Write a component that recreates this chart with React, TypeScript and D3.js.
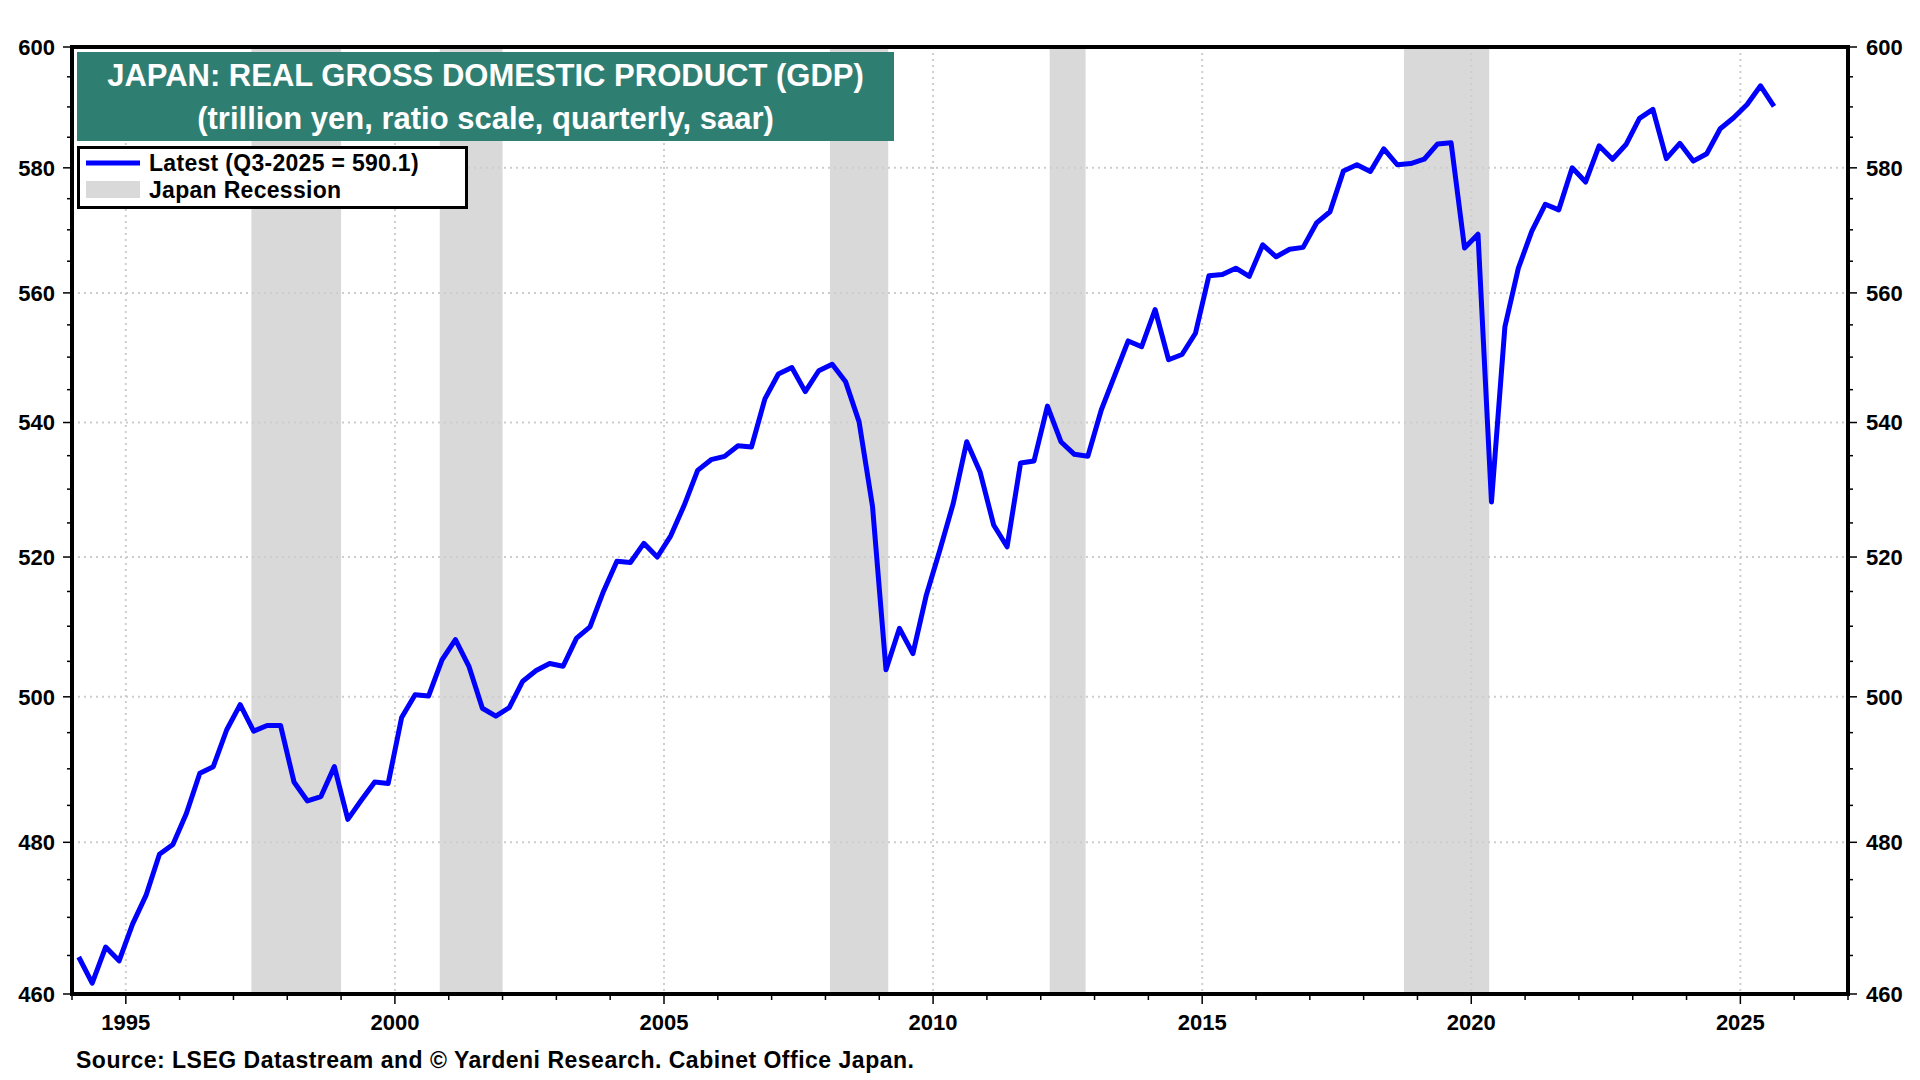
import { scaleLinear, scaleLog, line, range } from "d3";

// Japan real GDP, trillion yen, saar — one row per year, Q1..Q4
const years = [
  1994, 1995, 1996, 1997, 1998, 1999, 2000, 2001, 2002, 2003, 2004, 2005, 2006, 2007, 2008, 2009,
  2010, 2011, 2012, 2013, 2014, 2015, 2016, 2017, 2018, 2019, 2020, 2021, 2022, 2023, 2024, 2025,
];
const gdp = [
  [464.8, 461.4, 466.1, 464.3],
  [469.1, 472.9, 478.4, 479.7],
  [483.9, 489.4, 490.3, 495.4],
  [498.9, 495.2, 496.0, 496.0],
  [488.2, 485.6, 486.2, 490.3],
  [483.1, 485.7, 488.2, 488.0],
  [497.1, 500.3, 500.1, 505.2],
  [508.1, 504.3, 498.4, 497.3],
  [498.5, 502.2, 503.7, 504.7],
  [504.3, 508.3, 509.9, 515.0],
  [519.4, 519.2, 522.0, 520.0],
  [523.1, 527.6, 532.8, 534.4],
  [534.9, 536.5, 536.3, 543.6],
  [547.4, 548.4, 544.7, 547.9],
  [548.9, 546.2, 540.1, 527.4],
  [503.8, 509.7, 506.1, 514.5],
  [521.0, 527.9, 537.1, 532.5],
  [524.7, 521.5, 533.9, 534.2],
  [542.5, 537.1, 535.2, 534.9],
  [541.9, 547.2, 552.5, 551.6],
  [557.4, 549.6, 550.4, 553.7],
  [562.7, 562.9, 563.9, 562.6],
  [567.6, 565.7, 566.9, 567.2],
  [571.1, 572.9, 579.5, 580.5],
  [579.4, 583.1, 580.5, 580.7],
  [581.4, 583.9, 584.1, 567.1],
  [569.3, 528.1, 554.7, 563.9],
  [569.8, 574.1, 573.2, 580.0],
  [577.7, 583.6, 581.4, 583.8],
  [588.1, 589.6, 581.5, 584.0],
  [581.1, 582.3, 586.4, 588.2],
  [590.4, 593.5, 590.1],
];

// Cabinet Office business cycle peaks / troughs (YYYY-MM)
const recessions = [
  ["1997-05", "1999-01"],
  ["2000-11", "2002-01"],
  ["2008-02", "2009-03"],
  ["2012-03", "2012-11"],
  ["2018-10", "2020-05"],
];

const yTicks = [460, 480, 500, 520, 540, 560, 580, 600];
const xLabels = [1995, 2000, 2005, 2010, 2015, 2020, 2025];

const FONT = "'Liberation Sans', Arial, Helvetica, sans-serif";
const BLUE = "#0000ff";
const GRID = "#cdcdcd";

const toYear = (s: string) => +s.slice(0, 4) + (+s.slice(5, 7) - 1) / 12;

export default function App() {
  const W = 1920;
  const H = 1080;
  const left = 72;
  const right = 1848;
  const top = 47;
  const bottom = 994;

  const x = scaleLinear().domain([1994, 2027]).range([left, right]);
  const y = scaleLog().domain([460, 600]).range([bottom, top]);

  // quarterly points plotted mid-quarter
  const points: [number, number][] = [];
  years.forEach((yr, i) => {
    gdp[i].forEach((v, q) => points.push([yr + q * 0.25 + 0.125, v]));
  });

  const path = line<[number, number]>()
    .x((d) => x(d[0]))
    .y((d) => y(d[1]))(points);

  const minorY = range(460, 601, 5);
  const yearTicks = range(1994, 2028, 1);

  return (
    <div style={{ position: "absolute", left: 0, top: 0, width: W, height: H, background: "#fff" }}>
      <svg width={W} height={H} viewBox={`0 0 ${W} ${H}`} style={{ display: "block", fontFamily: FONT }}>
        <rect x={0} y={0} width={W} height={H} fill="#fff" />

        {/* Recession bands */}
        {recessions.map(([s, e], i) => (
          <rect
            key={i}
            x={x(toYear(s))}
            y={top}
            width={x(toYear(e)) - x(toYear(s))}
            height={bottom - top}
            fill="#d9d9d9"
          />
        ))}

        {/* Grid lines */}
        {yTicks.slice(1, -1).map((v) => (
          <line key={v} x1={left} x2={right} y1={y(v)} y2={y(v)} stroke={GRID} strokeWidth={2} strokeDasharray="2 4" />
        ))}
        {xLabels.map((yr) => (
          <line key={yr} x1={x(yr)} x2={x(yr)} y1={top} y2={bottom} stroke={GRID} strokeWidth={2} strokeDasharray="2 4" />
        ))}

        {/* GDP line */}
        <path d={path ?? ""} fill="none" stroke={BLUE} strokeWidth={5} strokeLinejoin="round" />

        {/* Frame */}
        <rect x={left} y={top} width={right - left} height={bottom - top} fill="none" stroke="#000" strokeWidth={4} />

        {/* Y ticks, both sides */}
        {minorY.map((v) => {
          const major = v % 20 === 0;
          const len = major ? 9 : 5;
          return (
            <g key={v}>
              <line x1={left - len} x2={left} y1={y(v)} y2={y(v)} stroke="#000" strokeWidth={1.5} />
              <line x1={right} x2={right + len} y1={y(v)} y2={y(v)} stroke="#000" strokeWidth={1.5} />
            </g>
          );
        })}
        {yTicks.map((v) => (
          <g key={v} fontSize={22} fontWeight="bold" fill="#000">
            <text x={left - 17} y={y(v)} dy="0.36em" textAnchor="end">
              {v}
            </text>
            <text x={right + 18} y={y(v)} dy="0.36em" textAnchor="start">
              {v}
            </text>
          </g>
        ))}

        {/* X ticks */}
        {yearTicks.map((yr) => {
          const major = yr % 5 === 0;
          return (
            <line key={yr} x1={x(yr)} x2={x(yr)} y1={bottom} y2={bottom + (major ? 10 : 6)} stroke="#000" strokeWidth={1.5} />
          );
        })}
        {xLabels.map((yr) => (
          <text key={yr} x={x(yr)} y={1030} textAnchor="middle" fontSize={22} fontWeight="bold" fill="#000">
            {yr}
          </text>
        ))}

        {/* Title box */}
        <rect x={77} y={52} width={817} height={89} fill="#2f7e72" />
        <text x={485.5} y={86} textAnchor="middle" fontSize={31} fontWeight="bold" fill="#fff">
          JAPAN: REAL GROSS DOMESTIC PRODUCT (GDP)
        </text>
        <text x={485.5} y={129} textAnchor="middle" fontSize={31} fontWeight="bold" fill="#fff">
          (trillion yen, ratio scale, quarterly, saar)
        </text>

        {/* Legend */}
        <rect x={78.5} y={147.5} width={388} height={60} fill="#fff" stroke="#000" strokeWidth={3} />
        <line x1={86} x2={140} y1={163} y2={163} stroke={BLUE} strokeWidth={5} />
        <rect x={86} y={181} width={54} height={17} fill="#d9d9d9" />
        <g fontSize={23} fontWeight="bold" fill="#000" letterSpacing={0.3}>
          <text x={149} y={163} dy="0.36em">
            Latest (Q3-2025 = 590.1)
          </text>
          <text x={149} y={190} dy="0.36em">
            Japan Recession
          </text>
        </g>

        {/* Source */}
        <text x={76} y={1068} fontSize={23} fontWeight="bold" fill="#000" letterSpacing={0.5}>
          Source: LSEG Datastream and © Yardeni Research. Cabinet Office Japan.
        </text>
      </svg>
    </div>
  );
}
